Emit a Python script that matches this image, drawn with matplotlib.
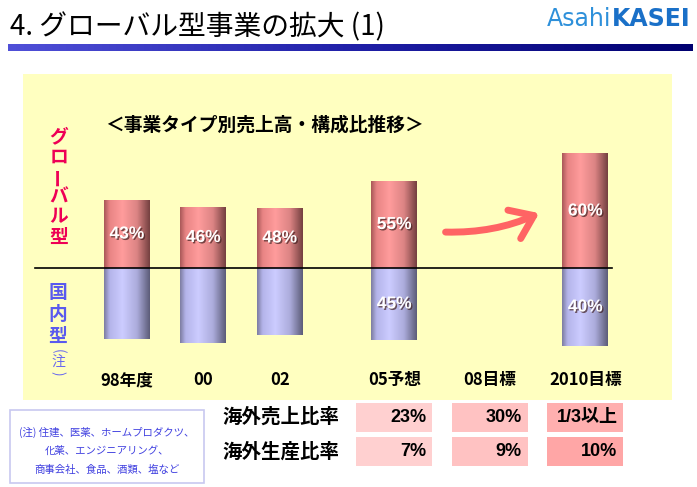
import matplotlib
matplotlib.use("Agg")
import matplotlib.pyplot as plt
import matplotlib.patheffects as pe
import numpy as np
from matplotlib.colors import LinearSegmentedColormap
from matplotlib.patches import Rectangle, FancyArrowPatch
from matplotlib.transforms import blended_transform_factory

JP = ["Noto Sans CJK JP", "DejaVu Sans"]
NUM = ["Liberation Sans", "Noto Sans CJK JP"]
NARROW = ["Liberation Sans Narrow", "Liberation Sans", "Noto Sans CJK JP"]
plt.rcParams["font.family"] = JP

# *** datos
categorias = ["98年度", "00", "02", "05予想", "08目標", "2010目標"]
alto_global = [68, 61, 60, 87, None, 114]
alto_domestico = [71, 75, 67, 72, None, 78]
pct_global = ["43%", "46%", "48%", "55%", "", "60%"]
pct_domestico = ["", "", "", "45%", "", "40%"]

filas_tabla = ["海外売上比率", "海外生産比率"]
columnas_tabla = [3, 4, 5]  # indices de categoria: 05, 08, 2010
valores_tabla = [["23%", "30%", "1/3以上"],
                 ["7%", "9%", "10%"]]
colores_tabla = [["#FFD0D0", "#FFC2C2", "#FFAFAF"],
                 ["#FFD0D0", "#FFC2C2", "#FFA6A6"]]

nota = ["(注) 住建、医薬、ホームプロダクツ、",
        "化薬、エンジニアリング、",
        "商事会社、食品、酒類、塩など"]

# posiciones horizontales de cada categoria (layout)
x_slots = [0, 2, 4, 7, 9.5, 12]
ancho = 1.2

rojo = LinearSegmentedColormap.from_list(
    "rojo", [(0, "#A85858"), (0.12, "#E88484"), (0.4, "#FF9C9C"),
             (0.72, "#DC8484"), (1, "#744040")])
azul = LinearSegmentedColormap.from_list(
    "azul", [(0, "#7C7CA0"), (0.12, "#B4B4EA"), (0.4, "#CCCCFF"),
             (0.72, "#ACACDC"), (1, "#5C5C78")])
barra_titulo = LinearSegmentedColormap.from_list(
    "titulo", ["#5050D8", "#2020A8", "#000070"])

fig = plt.figure(figsize=(6.97, 4.87), dpi=100)
fig.patch.set_facecolor("white")

# *** panel amarillo con las barras
ax = fig.add_axes([23 / 697, 1 - 400 / 487, 649 / 697, 326 / 487], zorder=1)
ax.set_facecolor("#FFFFC0")
for s in ax.spines.values():
    s.set_visible(False)
ax.set_xticks([])
ax.set_yticks([])

grad = np.linspace(0, 1, 128).reshape(1, -1)
sombra = [pe.SimplePatchShadow(offset=(1, -1), shadow_rgbFace="#402020",
                               alpha=0.7), pe.Normal()]
for x, hg, hd, pg, pdm in zip(x_slots, alto_global, alto_domestico,
                              pct_global, pct_domestico):
    if hg is None:
        continue
    ax.imshow(grad, cmap=rojo, extent=[x - ancho / 2, x + ancho / 2, 0, hg],
              aspect="auto", interpolation="bicubic", zorder=2)
    ax.imshow(grad, cmap=azul, extent=[x - ancho / 2, x + ancho / 2, -hd, 0],
              aspect="auto", interpolation="bicubic", zorder=2)
    ax.text(x, hg / 2, pg, color="white", fontsize=12.5, fontweight="bold",
            family=NUM, ha="center", va="center", zorder=3, path_effects=sombra)
    if pdm:
        ax.text(x, -hd / 2, pdm, color="white", fontsize=12.5,
                fontweight="bold", family=NUM, ha="center", va="center",
                zorder=3, path_effects=sombra)

ax.axhline(0, xmin=12 / 649, xmax=589 / 649, color="black", lw=1.2, zorder=2.5)

for x, c in zip(x_slots, categorias):
    ax.text(x, -112, c, fontsize=12, fontweight="bold", ha="center",
            va="center", zorder=3)

flecha = FancyArrowPatch((8.27, 36), (10.86, 56),
                         connectionstyle="arc3,rad=0.12",
                         arrowstyle="->,head_length=0.55,head_width=0.4",
                         mutation_scale=28, lw=5, color="#FF6464",
                         capstyle="round", joinstyle="round", zorder=3)
ax.add_patch(flecha)

ax.set_xlim(-2.72, 14.27)
ax.set_ylim(-132, 194)

# *** capa superior en pixeles para titulo, leyendas y tabla
top = fig.add_axes([0, 0, 1, 1], zorder=3)
top.set_xlim(0, 697)
top.set_ylim(487, 0)
top.axis("off")

top.text(10, 27, "4. グローバル型事業の拡大 (1)", fontsize=20, ha="left",
         va="center")
top.imshow(np.linspace(0, 1, 256).reshape(1, -1), cmap=barra_titulo,
           extent=[8, 693, 51, 44], aspect="auto")
top.text(611, 19, "Asahi", fontsize=17, color="#2E90DA", ha="right",
         va="center", family=["DejaVu Sans"])
top.text(612, 19, "KASEI", fontsize=17, color="#1A70C8", fontweight="bold",
         ha="left", va="center", family=["DejaVu Sans"])

top.text(105, 125, "＜事業タイプ別売上高・構成比推移＞", fontsize=13.5,
         fontweight="bold", ha="left", va="center")

# rotulos verticales, caracter por caracter
for i, ch in enumerate("グローバル型"):
    top.text(59, 137 + 20 * i, ch, fontsize=13.5, fontweight="bold",
             color="#EE0055", ha="center", va="center",
             rotation=90 if ch == "ー" else 0)
for i, ch in enumerate("国内型"):
    top.text(58, 293 + 21.5 * i, ch, fontsize=13.5, fontweight="bold",
             color="#5A5AEE", ha="center", va="center")
for i, ch in enumerate("(注)"):
    top.text(58, 351 + 11 * i, ch, fontsize=10, color="#6A6AEE",
             ha="center", va="center", rotation=0 if ch == "注" else -90)

# nota
top.add_patch(Rectangle((10, 410), 194, 73, facecolor="white",
                        edgecolor="#C8C8F0", lw=1.2))
for i, linea in enumerate(nota):
    top.text(107, 432 + i * 19, linea, fontsize=7.5, color="#4040E0",
             ha="center", va="center")

# tabla
tr = blended_transform_factory(ax.transData, top.transData)
filas_y = [(403, 432), (437, 466)]
for fila, (y0, y1), vals, cols in zip(filas_tabla, filas_y, valores_tabla,
                                      colores_tabla):
    top.text(222, (y0 + y1) / 2, fila, fontsize=14, fontweight="bold",
             ha="left", va="center")
    for ci, v, col in zip(columnas_tabla, vals, cols):
        xc = x_slots[ci]
        top.add_patch(Rectangle((xc - 1.0, y0), 2.0, y1 - y0, transform=tr,
                                facecolor=col, edgecolor="none"))
        top.text(xc + 0.84, (y0 + y1) / 2, v, transform=tr, fontsize=13,
                 fontweight="bold", family=NARROW, ha="right", va="center")

fig.savefig("out.png", dpi=100)
